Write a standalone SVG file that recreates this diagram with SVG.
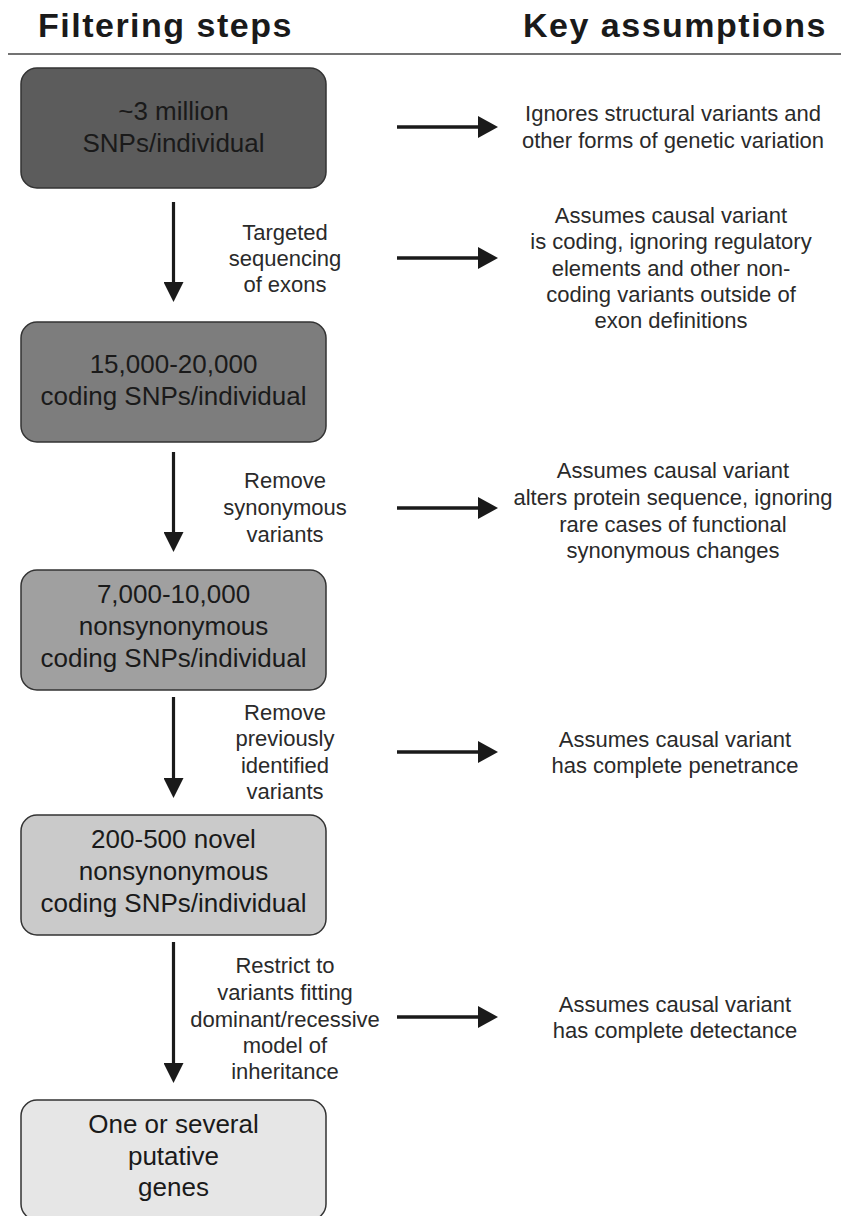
<svg xmlns="http://www.w3.org/2000/svg" width="841" height="1216" viewBox="0 0 841 1216">
  <style>
    .head { font-family: "Liberation Sans", Arial, sans-serif; font-weight: bold; font-size: 34px; letter-spacing: 1.5px; fill: #1a1a1a; }
    .box { stroke: #333333; stroke-width: 1.5; }
    .btxt { font-family: "Liberation Sans", Arial, sans-serif; font-size: 26px; fill: #1a1a1a; text-anchor: middle; }
    .lbl { font-family: "Liberation Sans", Arial, sans-serif; font-size: 22px; fill: #2a2a2a; text-anchor: middle; }
    .conn { stroke: #1a1a1a; fill: none; }
    .v { stroke-width: 3.2; marker-end: url(#headV); }
    .h { stroke-width: 3.6; marker-end: url(#headH); }
  </style>
  <defs>
    <marker id="headV" markerUnits="userSpaceOnUse" markerWidth="20" markerHeight="20" refX="12" refY="10" orient="auto">
      <path d="M0,0 L20,10 L0,20 Z" fill="#1a1a1a"/>
    </marker>
    <marker id="headH" markerUnits="userSpaceOnUse" markerWidth="20" markerHeight="22" refX="12" refY="11" orient="auto">
      <path d="M0,0 L20,11 L0,22 Z" fill="#1a1a1a"/>
    </marker>
  </defs>
  <rect width="841" height="1216" fill="#ffffff"/>

  <g id="header">
    <text class="head" x="38" y="37">Filtering steps</text>
    <text class="head" x="523" y="37">Key assumptions</text>
    <line x1="8" y1="54" x2="841" y2="54" stroke="#444444" stroke-width="1.5"/>
  </g>

  <g id="node1">
    <rect class="box" x="21" y="68" width="305" height="120" rx="16" fill="#5c5c5c"/>
    <text class="btxt" x="173.5" y="120">~3 million</text>
    <text class="btxt" x="173.5" y="152">SNPs/individual</text>
  </g>
  <g id="node2">
    <rect class="box" x="21" y="322" width="305" height="120" rx="16" fill="#7d7d7d"/>
    <text class="btxt" x="173.5" y="373">15,000-20,000</text>
    <text class="btxt" x="173.5" y="405">coding SNPs/individual</text>
  </g>
  <g id="node3">
    <rect class="box" x="21" y="570" width="305" height="120" rx="16" fill="#a0a0a0"/>
    <text class="btxt" x="173.5" y="603">7,000-10,000</text>
    <text class="btxt" x="173.5" y="635">nonsynonymous</text>
    <text class="btxt" x="173.5" y="667">coding SNPs/individual</text>
  </g>
  <g id="node4">
    <rect class="box" x="21" y="815" width="305" height="120" rx="16" fill="#cacaca"/>
    <text class="btxt" x="173.5" y="848">200-500 novel</text>
    <text class="btxt" x="173.5" y="880">nonsynonymous</text>
    <text class="btxt" x="173.5" y="912">coding SNPs/individual</text>
  </g>
  <g id="node5">
    <rect class="box" x="21" y="1100" width="305" height="120" rx="16" fill="#e6e6e6"/>
    <text class="btxt" x="173.5" y="1133">One or several</text>
    <text class="btxt" x="173.5" y="1165">putative</text>
    <text class="btxt" x="173.5" y="1196">genes</text>
  </g>

  <g id="connectors">
    <line class="conn v" x1="173.5" y1="202" x2="173.5" y2="294"/>
    <line class="conn v" x1="173.5" y1="452" x2="173.5" y2="544"/>
    <line class="conn v" x1="173.5" y1="697" x2="173.5" y2="790"/>
    <line class="conn v" x1="173.5" y1="942" x2="173.5" y2="1075"/>
    <line class="conn h" x1="397" y1="127" x2="490" y2="127"/>
    <line class="conn h" x1="397" y1="258" x2="490" y2="258"/>
    <line class="conn h" x1="397" y1="508" x2="490" y2="508"/>
    <line class="conn h" x1="397" y1="752" x2="490" y2="752"/>
    <line class="conn h" x1="397" y1="1017" x2="490" y2="1017"/>
  </g>

  <g id="step-labels">
    <text class="lbl" x="285" y="240">Targeted</text>
    <text class="lbl" x="285" y="266">sequencing</text>
    <text class="lbl" x="285" y="292">of exons</text>

    <text class="lbl" x="285" y="488">Remove</text>
    <text class="lbl" x="285" y="515">synonymous</text>
    <text class="lbl" x="285" y="542">variants</text>

    <text class="lbl" x="285" y="720">Remove</text>
    <text class="lbl" x="285" y="746">previously</text>
    <text class="lbl" x="285" y="773">identified</text>
    <text class="lbl" x="285" y="799">variants</text>

    <text class="lbl" x="285" y="973">Restrict to</text>
    <text class="lbl" x="285" y="1000">variants fitting</text>
    <text class="lbl" x="285" y="1027">dominant/recessive</text>
    <text class="lbl" x="285" y="1053">model of</text>
    <text class="lbl" x="285" y="1079">inheritance</text>
  </g>

  <g id="assumptions">
    <text class="lbl" x="673" y="121">Ignores structural variants and</text>
    <text class="lbl" x="673" y="148">other forms of genetic variation</text>

    <text class="lbl" x="671" y="223">Assumes causal variant</text>
    <text class="lbl" x="671" y="249">is coding, ignoring regulatory</text>
    <text class="lbl" x="671" y="276">elements and other non-</text>
    <text class="lbl" x="671" y="302">coding variants outside of</text>
    <text class="lbl" x="671" y="328">exon definitions</text>

    <text class="lbl" x="673" y="478">Assumes causal variant</text>
    <text class="lbl" x="673" y="505">alters protein sequence, ignoring</text>
    <text class="lbl" x="673" y="532">rare cases of functional</text>
    <text class="lbl" x="673" y="558">synonymous changes</text>

    <text class="lbl" x="675" y="747">Assumes causal variant</text>
    <text class="lbl" x="675" y="773">has complete penetrance</text>

    <text class="lbl" x="675" y="1012">Assumes causal variant</text>
    <text class="lbl" x="675" y="1038">has complete detectance</text>
  </g>
</svg>
